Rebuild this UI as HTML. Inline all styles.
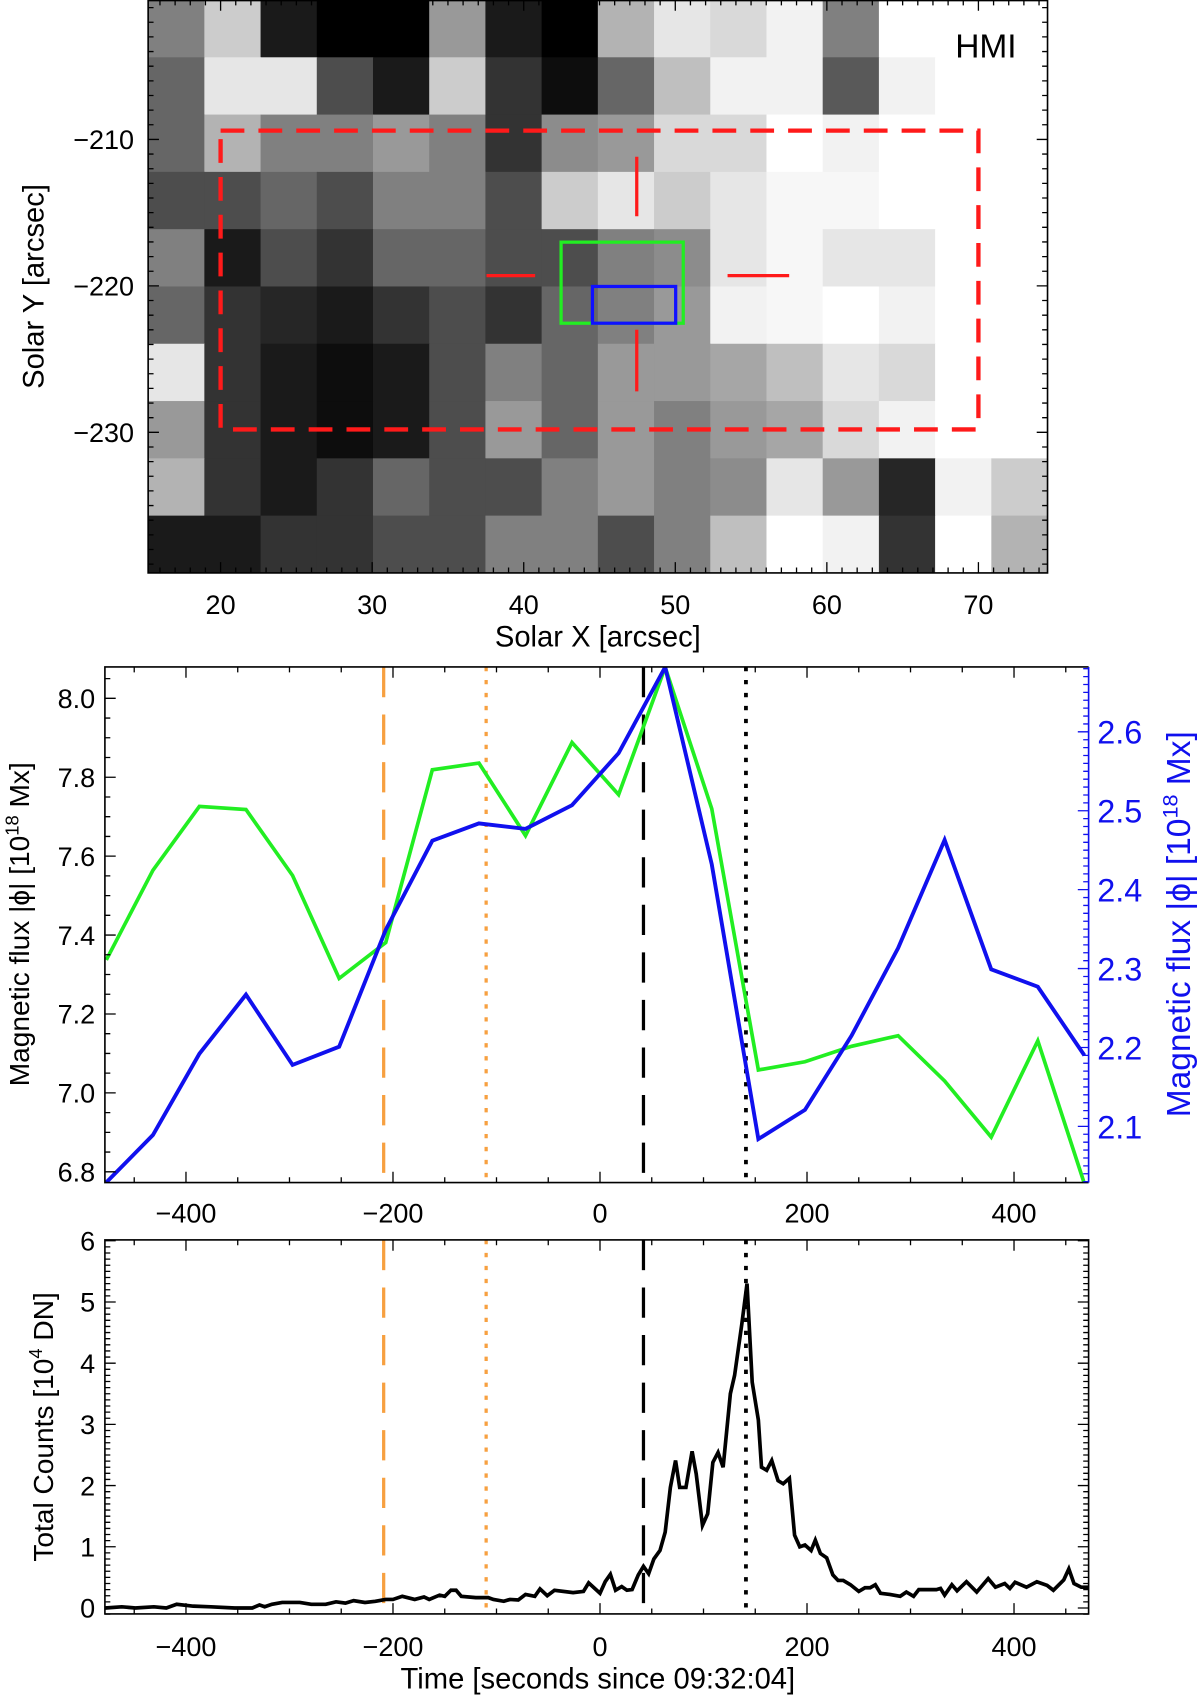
<!DOCTYPE html>
<html><head><meta charset="utf-8"><style>
html,body{margin:0;padding:0;background:#fff;}
svg{display:block;font-family:"Liberation Sans",sans-serif;}
</style></head><body>
<svg id="fig" width="1200" height="1695" viewBox="0 0 1110 1568" xmlns="http://www.w3.org/2000/svg"></svg>
<script>
// ---------- data ----------
const mapRows = [
[0.5,0.8,0.1,0,0,0.6,0.1,0,0.7,0.9,0.85,0.95,0.5,1,1,1],
[0.4,0.9,0.9,0.3,0.1,0.8,0.2,0.05,0.4,0.75,0.95,0.95,0.35,0.95,1,1],
[0.4,0.7,0.5,0.5,0.6,0.5,0.2,0.55,0.6,0.85,0.85,1,0.95,1,1,1],
[0.3,0.3,0.4,0.3,0.5,0.5,0.3,0.8,0.9,0.8,0.9,0.97,0.97,1,1,1],
[0.5,0.1,0.3,0.2,0.4,0.4,0.3,0.3,0.5,0.55,0.9,0.97,0.9,0.9,1,1],
[0.4,0.2,0.15,0.1,0.2,0.3,0.2,0.4,0.5,0.6,0.95,0.97,1,0.95,1,1],
[0.9,0.2,0.1,0.05,0.1,0.3,0.5,0.4,0.6,0.6,0.65,0.75,0.9,0.85,1,1],
[0.6,0.2,0.1,0.05,0.1,0.3,0.6,0.4,0.6,0.5,0.6,0.65,0.85,0.95,1,1],
[0.7,0.2,0.1,0.2,0.4,0.3,0.3,0.5,0.6,0.5,0.55,0.9,0.6,0.15,0.95,0.8],
[0.1,0.1,0.2,0.2,0.3,0.3,0.5,0.5,0.3,0.5,0.75,1,0.95,0.2,1,0.7]
];
const xTicksMap = [20,30,40,50,60,70];
const yTicksMap = [-210,-220,-230];

const fluxTimes = [-477,-432,-387,-342,-297,-252,-207,-162,-117,-72,-27,18,63,108,153,198,243,288,333,378,423,468];
const greenFlux = [7.337,7.564,7.726,7.718,7.551,7.290,7.381,7.819,7.836,7.652,7.888,7.756,8.079,7.72,7.058,7.079,7.118,7.145,7.030,6.888,7.132,6.77];
const blueFlux = [2.029,2.089,2.192,2.267,2.178,2.201,2.349,2.462,2.484,2.477,2.507,2.573,2.682,2.432,2.084,2.121,2.215,2.326,2.463,2.299,2.277,2.19];
const leftFluxTicks = [6.8,7.0,7.2,7.4,7.6,7.8,8.0];
const rightFluxTicks = [2.1,2.2,2.3,2.4,2.5,2.6];
const timeTicks = [-400,-200,0,200,400];

const countTimes = [-478,-462,-449,-431,-419,-409,-393,-376,-353,-336,-329,-324,-317,-307,-290,-279,-265,-255,-246,-238,-227,-217,-207,-200,-191,-179,-170,-165,-155,-150,-144,-139,-134,-120,-108,-103,-93,-87,-79,-72,-63,-58,-51,-44,-26,-16,-11,0,5,10,15,21,26,31,37,42,47,52,58,63,68,73,77,83,89,93,99,104,109,114,119,126,130,137,142,147,153,156,161,166,172,177,183,188,193,198,204,208,213,219,225,230,235,242,250,256,261,266,271,280,290,296,303,308,325,329,333,340,345,354,364,375,382,391,396,401,412,422,432,438,448,453,458,465,474];
const countValues = [0.0,0.02,0.0,0.02,0.0,0.06,0.03,0.02,0.0,0.0,0.05,0.02,0.06,0.09,0.09,0.06,0.06,0.1,0.08,0.12,0.09,0.11,0.14,0.14,0.19,0.14,0.18,0.14,0.21,0.19,0.29,0.29,0.19,0.17,0.17,0.14,0.11,0.14,0.13,0.22,0.19,0.31,0.2,0.29,0.25,0.27,0.41,0.24,0.43,0.55,0.29,0.35,0.29,0.30,0.54,0.68,0.56,0.80,0.94,1.24,1.97,2.41,1.97,1.97,2.56,2.19,1.35,1.54,2.38,2.54,2.30,3.50,3.80,4.64,5.30,3.69,3.07,2.30,2.25,2.41,2.08,2.03,2.12,1.19,1.00,1.03,0.94,1.11,0.89,0.82,0.54,0.45,0.45,0.38,0.27,0.33,0.33,0.38,0.24,0.22,0.19,0.26,0.19,0.30,0.30,0.32,0.21,0.38,0.28,0.43,0.26,0.48,0.34,0.40,0.32,0.42,0.34,0.43,0.37,0.29,0.46,0.64,0.40,0.34,0.34];
const countTicks = [0,1,2,3,4,5,6];
const eventTimes = [-209,-110,42,141];

// ---------- helpers ----------
const NS = "http://www.w3.org/2000/svg";
const svg = document.getElementById('fig');
function mk(tag, attrs, parent, text){
  const e = document.createElementNS(NS, tag);
  for (const k in attrs) e.setAttribute(k, attrs[k]);
  if (text !== undefined) e.textContent = text;
  (parent||svg).appendChild(e);
  return e;
}
function lin(d0,d1,r0,r1){ return v => r0 + (v-d0)*(r1-r0)/(d1-d0); }

// ---------- panel 1: HMI map ----------
const P1 = {l:137, r:969, t:0, b:530};
const mx = lin(15.22, 74.56, P1.l, P1.r);
const my = lin(-200.48, -239.6, P1.t, P1.b);
const g1 = mk('g', {});


const nR = mapRows.length, nC = mapRows[0].length;
const cw = (P1.r-P1.l)/nC, ch = (P1.b-P1.t)/nR;
const img = mk('g', {}, g1);


mapRows.forEach((row, i) => row.forEach((v, j) => {
  const c = Math.round(v*255);
  const r = mk('rect', {x:P1.l+j*cw, y:P1.t+i*ch, width:cw+0.5, height:ch+0.5, fill:`rgb(${c},${c},${c})`}, img);
  
  
}));
const rb = mk('rect', {x:mx(20), y:my(-209.4), width:mx(70)-mx(20), height:my(-229.8)-my(-209.4), fill:'none', stroke:'#ff1a1a', 'stroke-width':4, 'stroke-dasharray':'22 13'}, g1);


const crossD = `M589 145 V200 M589 305 V362 M450 255 H495 M673 255 H730`;
const cr = mk('path', {d:crossD, stroke:'#ff1a1a', 'stroke-width':3, fill:'none'}, g1);


const gb = mk('rect', {x:519, y:224, width:113, height:75, fill:'none', stroke:'#22ee22', 'stroke-width':3}, g1);


const bb = mk('rect', {x:548, y:265, width:77, height:34, fill:'none', stroke:'#1010ff', 'stroke-width':3}, g1);


const fr1 = mk('rect', {x:P1.l, y:P1.t+0.5, width:P1.r-P1.l, height:P1.b-P1.t-0.5, fill:'none', stroke:'#000', 'stroke-width':1.5}, g1);


let td = '';
for (let v=16; v<=74; v++){ const L = v%10===0?10:5; td += `M${mx(v)} ${P1.b} v${-L} M${mx(v)} ${P1.t} v${L} `; }
for (let v=-201; v>=-239; v--){ const L = v%10===0?10:5; td += `M${P1.l} ${my(v)} h${L} M${P1.r} ${my(v)} h${-L} `; }
const tk1 = mk('path', {d:td, stroke:'#000', 'stroke-width':1.2}, g1);


xTicksMap.forEach(v => {
  const t = mk('text', {x:mx(v), y:568, 'font-size':25, 'text-anchor':'middle'}, g1, String(v));
  
  
});
yTicksMap.forEach(v => {
  const t = mk('text', {x:124, y:my(v)+9, 'font-size':25, 'text-anchor':'end'}, g1, '\u2212'+Math.abs(v));
  
  
});
const xt1 = mk('text', {x:553, y:598, 'font-size':27, 'text-anchor':'middle'}, g1, 'Solar X [arcsec]');


const yt1 = mk('text', {x:0, y:0, 'font-size':27, 'text-anchor':'middle', transform:'translate(40,265) rotate(-90)'}, g1, 'Solar Y [arcsec]');


const hmi = mk('text', {x:912, y:53, 'font-size':31, 'text-anchor':'middle'}, g1, 'HMI');



// ---------- shared time axis ----------
const PX = {l:97, r:1007};
const tx = lin(0, 100, 555, 555+95.75);

function timeAxis(g, top, bottom, labelY){
  let d = '';
  for (let v=-450; v<=450; v+=50){ const L = v%200===0?10:5; d += `M${tx(v)} ${bottom} v${-L} M${tx(v)} ${top} v${L} `; }
  const p = mk('path', {d:d, stroke:'#000', 'stroke-width':1.2}, g);
  
  
  timeTicks.forEach(v => {
    const t = mk('text', {x:tx(v), y:labelY, 'font-size':25, 'text-anchor':'middle'}, g, v<0?'\u2212'+Math.abs(v):String(v));
    
    
  });
}
function eventLines(g, top, bottom){
  const styles = [
    {c:'#f7a040', dash:'28 16', w:3},
    {c:'#f7a040', dash:'4 8', w:3},
    {c:'#000', dash:'28 16', w:3},
    {c:'#000', dash:'4 8', w:3.5}
  ];
  const names = ['orange-dashed-line','orange-dotted-line','black-dashed-line','black-dotted-line'];
  eventTimes.forEach((t,i) => {
    const l = mk('line', {x1:tx(t), x2:tx(t), y1:top, y2:bottom, stroke:styles[i].c, 'stroke-width':styles[i].w, 'stroke-dasharray':styles[i].dash}, g);
    
    
  });
}
function polyline(g, xs, ys, fx, fy, color, w, clipId){
  const pts = xs.map((t,i) => `${fx(t).toFixed(1)},${fy(ys[i]).toFixed(1)}`).join(' ');
  return mk('polyline', {points:pts, fill:'none', stroke:color, 'stroke-width':w, 'stroke-linejoin':'miter', 'clip-path':`url(#${clipId})`}, g);
}

// ---------- panel 2: flux ----------
const P2 = {t:617, b:1094};
const defs = mk('defs', {});
const cp2 = mk('clipPath', {id:'c2'}, defs); mk('rect', {x:PX.l, y:P2.t, width:PX.r-PX.l, height:P2.b-P2.t}, cp2);
const g2 = mk('g', {});


const yl = lin(8.0, 7.0, 646, 1011);
const yr = lin(2.6, 2.1, 677, 1042);
eventLines(g2, P2.t, P2.b);
const gl = polyline(g2, fluxTimes, greenFlux, tx, yl, '#22ee22', 3.4, 'c2');


const bl = polyline(g2, fluxTimes, blueFlux, tx, yr, '#1010ee', 3.6, 'c2');


const fr2 = mk('path', {d:`M${PX.r} ${P2.t} H${PX.l} V${P2.b} H${PX.r}`, fill:'none', stroke:'#000', 'stroke-width':1.5}, g2);


const fr2r = mk('line', {x1:PX.r, x2:PX.r, y1:P2.t, y2:P2.b, stroke:'#1010ee', 'stroke-width':1.5}, g2);


timeAxis(g2, P2.t, P2.b, 1131);
let dl = '';
for (let v=6.8; v<=8.08; v+=0.05){ const L = (Math.round(v*100)%20===0)?10:5; dl += `M${PX.l} ${yl(v)} h${L} `; }
const tl2 = mk('path', {d:dl, stroke:'#000', 'stroke-width':1.2}, g2);


let dr = '';
for (let i=203; i<=268; i++){ const v=i/100; const L = i%10===0?10:5; dr += `M${PX.r} ${yr(v)} h${-L} `; }
const tr2 = mk('path', {d:dr, stroke:'#1010ee', 'stroke-width':1.2}, g2);


leftFluxTicks.forEach(v => {
  const t = mk('text', {x:88, y:yl(v)+9, 'font-size':25, 'text-anchor':'end'}, g2, v.toFixed(1));
  
  
});
rightFluxTicks.forEach(v => {
  const t = mk('text', {x:1015, y:yr(v)+11, 'font-size':30, 'text-anchor':'start', fill:'#1010ee'}, g2, v.toFixed(1));
  
  
});
const ylt = mk('text', {x:0, y:0, 'font-size':26, 'text-anchor':'middle', transform:'translate(27,855) rotate(-90)'}, g2);


ylt.innerHTML = 'Magnetic flux |ϕ| [10<tspan dy="-10" font-size="17">18</tspan><tspan dy="10"> Mx]</tspan>';
const yrt = mk('text', {x:0, y:0, 'font-size':31, 'text-anchor':'middle', fill:'#1010ee', transform:'translate(1101,855) rotate(-90)'}, g2);


yrt.innerHTML = 'Magnetic flux |ϕ| [10<tspan dy="-12" font-size="20">18</tspan><tspan dy="12"> Mx]</tspan>';

// ---------- panel 3: counts ----------
const P3 = {t:1147, b:1493};
const cp3 = mk('clipPath', {id:'c3'}, defs); mk('rect', {x:PX.l, y:P3.t, width:PX.r-PX.l, height:P3.b-P3.t}, cp3);
const g3 = mk('g', {});


const yc = lin(0, 6, 1487.5, 1147.8);
eventLines(g3, P3.t, P3.b);
const cl = polyline(g3, countTimes, countValues, tx, yc, '#000', 3.4, 'c3');


const fr3 = mk('rect', {x:PX.l, y:P3.t, width:PX.r-PX.l, height:P3.b-P3.t, fill:'none', stroke:'#000', 'stroke-width':1.5}, g3);


timeAxis(g3, P3.t, P3.b, 1532);
let dc = '';
for (let i=-1; i<=60; i++){ const L = i%10===0?10:5; dc += `M${PX.l} ${yc(i/10)} h${L} M${PX.r} ${yc(i/10)} h${-L} `; }
const tc = mk('path', {d:dc, stroke:'#000', 'stroke-width':1.2}, g3);


countTicks.forEach(v => {
  const t = mk('text', {x:88, y:yc(v)+9, 'font-size':25, 'text-anchor':'end'}, g3, String(v));
  
  
});
const yct = mk('text', {x:0, y:0, 'font-size':26, 'text-anchor':'middle', transform:'translate(49,1320) rotate(-90)'}, g3);


yct.innerHTML = 'Total Counts [10<tspan dy="-10" font-size="17">4</tspan><tspan dy="10"> DN]</tspan>';
const xct = mk('text', {x:553, y:1562, 'font-size':27, 'text-anchor':'middle'}, g3, 'Time [seconds since 09:32:04]');


</script>
</body></html>
